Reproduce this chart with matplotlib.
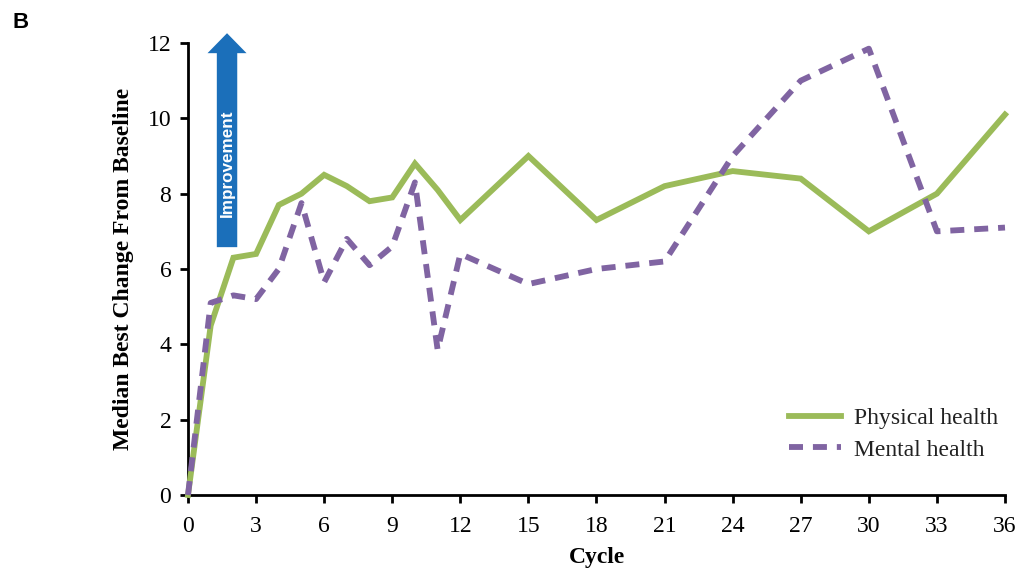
import matplotlib
matplotlib.use('Agg')
import matplotlib.pyplot as plt
from matplotlib.patches import FancyArrow

cycles = [0, 1, 2, 3, 4, 5, 6, 7, 8, 9, 10, 11, 12, 15, 18, 21, 24, 27, 30, 33, 36]
physical = [0, 4.5, 6.3, 6.4, 7.7, 8.0, 8.5, 8.2, 7.8, 7.9, 8.8, 8.1, 7.3,
            9.0, 7.3, 8.2, 8.6, 8.4, 7.0, 8.0, 10.1]
mental = [0, 5.1, 5.3, 5.2, 6.0, 7.75, 5.65, 6.8, 6.1, 6.6, 8.3, 3.85, 6.4,
          5.6, 6.0, 6.2, 9.0, 11.0, 11.85, 7.0, 7.1]

green = '#9bbb59'
purple = '#8064a2'

plt.rcParams['font.family'] = ['Liberation Serif', 'DejaVu Serif']

fig = plt.figure(figsize=(10.2, 5.69), dpi=100)
ax = fig.add_axes([188 / 1020, 1 - 495 / 569, (1005 - 188) / 1020, (495 - 43) / 569])

ax.plot(cycles, physical, color=green, lw=4.2, label='Physical health',
        solid_joinstyle='miter', clip_on=False, zorder=3)
ax.plot(cycles, mental, color=purple, lw=4.2, dashes=(2.4, 1.7), label='Mental health',
        clip_on=False, zorder=3)

ax.set_xlim(0, 36)
ax.set_ylim(0, 12)
ax.set_xticks(range(0, 37, 3))
ax.set_yticks(range(0, 13, 2))
for s in ['top', 'right']:
    ax.spines[s].set_visible(False)
for s in ['left', 'bottom']:
    ax.spines[s].set_linewidth(2)
ax.tick_params(direction='out', length=6, width=2, labelsize=17)
ax.tick_params(axis='x', pad=9)
ax.tick_params(axis='y', pad=6)

ax.set_xlabel('Cycle', fontsize=17, fontweight='bold', labelpad=7)
ax.set_ylabel('Median Best Change From Baseline', fontsize=17, fontweight='bold', labelpad=10)

# improvement arrow
arr = FancyArrow(1.72, 6.58, 0, 5.68, width=0.9, head_width=1.72, head_length=0.53,
                 length_includes_head=True, color='#1b6fba', lw=0, clip_on=False, zorder=4)
ax.add_patch(arr)
ax.text(1.72, 8.8, 'Improvement', rotation=90, ha='center', va='center', color='white',
        fontsize=12.3, fontweight='bold', family='Liberation Sans', zorder=5)

leg = ax.legend(loc='lower right', bbox_to_anchor=(1.017, 0.029), frameon=False, fontsize=17,
                handlelength=2.2, handletextpad=0.55, labelspacing=0.43)
for t in leg.get_texts():
    t.set_color('#222222')

fig.text(21 / 1020, 1 - 22 / 569, 'B', fontsize=16, fontweight='bold', family='Liberation Sans',
         ha='center', va='center')

fig.savefig('out.png', dpi=100)
